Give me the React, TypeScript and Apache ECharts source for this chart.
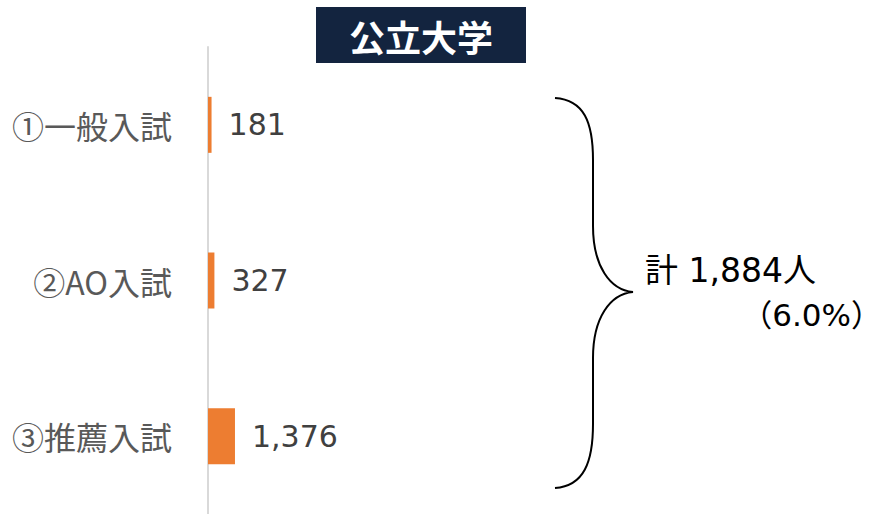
import React, { useEffect, useRef } from "react";
import * as echarts from "echarts";

const categories = ["①一般入試", "②AO入試", "③推薦入試"];
const values = [181, 327, 1376];
const titleText = "公立大学";
const totalText = "計 1,884人";
const shareText = "（6.0%）";

const FONT = '"Noto Sans CJK JP", "Noto Sans", sans-serif';
const NUMFONT = '"DejaVu Sans", "Noto Sans CJK JP", sans-serif';

const bracePath =
  "M555,98 C584,100 593,122 593,160 L593,226 C593,266 610,290 633,292 C610,294 593,318 593,358 L593,424 C593,462 584,486 555,488";

let registered = false;
function ensureShape() {
  if (registered) return;
  echarts.graphic.registerShape("brace", echarts.graphic.extendPath(bracePath, {}));
  registered = true;
}

export default function App() {
  const ref = useRef<HTMLDivElement>(null);
  useEffect(() => {
    ensureShape();
    const chart = echarts.init(ref.current!, undefined, { renderer: "svg" });
    chart.setOption({
      animation: false,
      textStyle: { fontFamily: FONT },
      grid: { left: 208, top: 47, width: 400, height: 471, containLabel: false },
      xAxis: { type: "value", min: 0, max: 20400, show: false },
      yAxis: {
        type: "category",
        inverse: true,
        data: categories,
        axisLine: { show: true, lineStyle: { color: "#d9d9d9", width: 2 } },
        axisTick: { show: false },
        axisLabel: { fontSize: 32, color: "#595959", margin: 36, fontFamily: FONT },
      },
      series: [
        {
          type: "bar",
          data: values,
          barWidth: 56,
          itemStyle: { color: "#ED7D31" },
          label: {
            show: true,
            position: "right",
            distance: 17,
            fontSize: 30,
            color: "#404040",
            fontFamily: NUMFONT,
            formatter: (p: any) => Number(p.value).toLocaleString("en-US"),
          },
        },
      ],
      graphic: [
        {
          type: "rect",
          shape: { x: 316, y: 7, width: 210, height: 56 },
          style: { fill: "#13243F" },
        },
        {
          type: "text",
          x: 421,
          y: 36,
          style: {
            text: titleText,
            fill: "#ffffff",
            font: `bold 36px ${FONT}`,
            align: "center",
            verticalAlign: "middle",
          },
        },
        {
          type: "brace",
          x: 0,
          y: 0,
          style: { stroke: "#000000", fill: "none", lineWidth: 2 },
        },
        {
          type: "text",
          x: 645,
          y: 270,
          style: {
            text: totalText,
            fill: "#000000",
            font: `33px ${NUMFONT}`,
            align: "left",
            verticalAlign: "middle",
          },
        },
        {
          type: "text",
          x: 882,
          y: 315,
          style: {
            text: shareText,
            fill: "#000000",
            font: `31px ${NUMFONT}`,
            align: "right",
            verticalAlign: "middle",
          },
        },
      ],
    });
    return () => chart.dispose();
  }, []);
  return (
    <div
      ref={ref}
      style={{ position: "fixed", left: 0, top: 0, width: 887, height: 514, background: "#fff" }}
    />
  );
}
